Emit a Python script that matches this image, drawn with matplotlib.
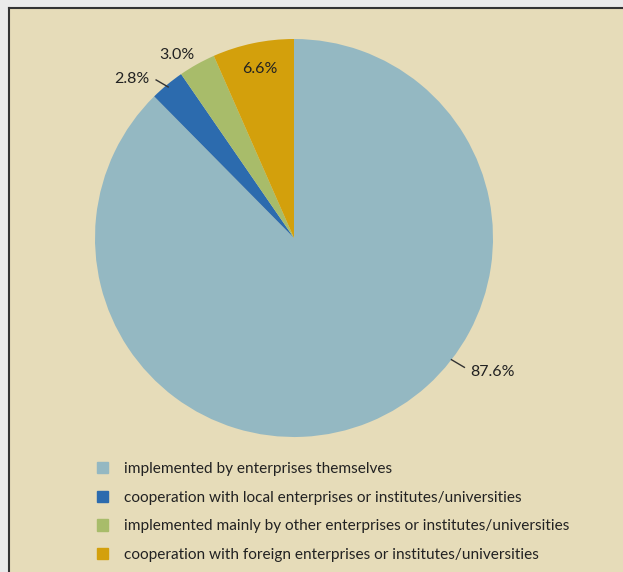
import matplotlib
matplotlib.use("Agg")
import matplotlib.pyplot as plt
from matplotlib.lines import Line2D
from matplotlib.patches import Rectangle
import numpy as np

categories = [
    "implemented by enterprises themselves",
    "cooperation with local enterprises or institutes/universities",
    "implemented mainly by other enterprises or institutes/universities",
    "cooperation with foreign enterprises or institutes/universities",
]
values = [87.6, 2.8, 3.0, 6.6]
value_labels = ["87.6%", "2.8%", "3.0%", "6.6%"]
colors = ["#94B8C2", "#2C6BAE", "#A8BC6A", "#D3A00C"]

BG = "#E6DCB9"
plt.rcParams['font.family'] = ['Lato', 'DejaVu Sans']

W, H = 623, 572
fig = plt.figure(figsize=(W / 100, H / 100), dpi=100, facecolor=BG)

# outer light strips + border
fig.add_artist(Rectangle((0, 0), 8 / W, 1, transform=fig.transFigure, color="#EAEAEA", zorder=0))
fig.add_artist(Rectangle((0, 1 - 7 / H), 1, 7 / H, transform=fig.transFigure, color="#EAEAEA", zorder=0))
fig.add_artist(Line2D([8.5 / W, 8.5 / W], [0, 1 - 7.5 / H], transform=fig.transFigure, color="#333333", lw=1.5))
fig.add_artist(Line2D([8.5 / W, 1], [1 - 7.5 / H, 1 - 7.5 / H], transform=fig.transFigure, color="#333333", lw=1.5))

cx, cy, r = 294, 238, 199
ax = fig.add_axes([(cx - r) / W, 1 - (cy + r) / H, 2 * r / W, 2 * r / H])
ax.set_facecolor("none")
wedges, _ = ax.pie(values, colors=colors, startangle=90, counterclock=False,
                   radius=1, wedgeprops=dict(linewidth=0))
ax.set_xlim(-1, 1)
ax.set_ylim(-1, 1)
ax.set_aspect("equal")
ax.axis("off")

def pol(rr, a):
    return rr * np.cos(np.radians(a)), rr * np.sin(np.radians(a))

# label placement: text radius/angle and optional leader line (r0, a0, r1, a1)
place = {
    0: dict(r=1.206, ang=-34.0, line=(1.0, -37.7, 1.075, -37.2)),
    1: dict(r=1.141, ang=135.5, line=(0.988, 129.8, 1.054, 131.1)),
    2: dict(r=1.091, ang=122.6, line=None),
    3: dict(r=0.866, ang=101.4, line=None),
}
for i, w in enumerate(wedges):
    p = place[i]
    tx, ty = pol(p["r"], p["ang"])
    ax.text(tx, ty, value_labels[i], ha="center", va="center", fontsize=11.5, color="#222222")
    if p["line"] is not None:
        r0, a0, r1, a1 = p["line"]
        x0, y0 = pol(r0, a0)
        x1, y1 = pol(r1, a1)
        ax.plot([x0, x1], [y0, y1], color="#333333", lw=1)

handles = [Rectangle((0, 0), 1, 1, color=c) for c in colors]
fig.legend(handles, categories, loc="upper left",
           bbox_to_anchor=(83 / W, 1 - 448 / H), frameon=False,
           handlelength=0.75, handleheight=0.75, handletextpad=1.0,
           labelspacing=0.95, fontsize=11.1, labelcolor="#222222")

fig.savefig("out.png", dpi=100, facecolor=BG)
